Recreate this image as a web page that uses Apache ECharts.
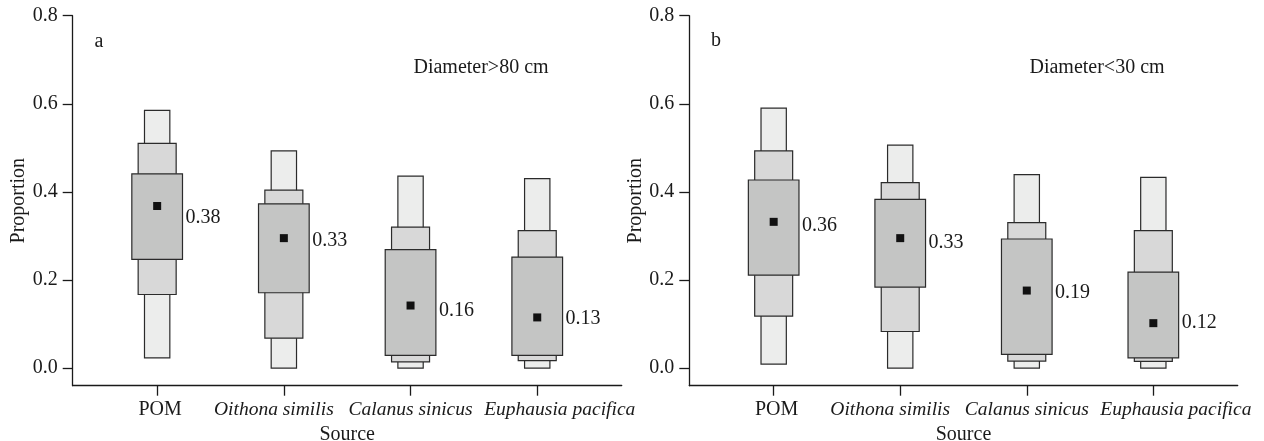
<!DOCTYPE html>
<html>
<head>
<meta charset="utf-8">
<script src="https://cdn.jsdelivr.net/npm/echarts@6/dist/echarts.min.js"></script>
<style>html,body{margin:0;padding:0;background:#fff;}#c{width:1264px;height:441px;}</style>
</head>
<body>
<div id="c"></div>
<script>
// ---- data ----
const categories = ['POM', 'Oithona similis', 'Calanus sinicus', 'Euphausia pacifica'];
const yTicks = [0, 0.2, 0.4, 0.6, 0.8];

// Panel a: Diameter>80 cm
const a_outerLow  = [0.023, 0.0, 0.0, 0.0];
const a_outerHigh = [0.585, 0.493, 0.436, 0.430];
const a_midLow    = [0.167, 0.068, 0.014, 0.017];
const a_midHigh   = [0.510, 0.404, 0.320, 0.312];
const a_innerLow  = [0.247, 0.171, 0.029, 0.029];
const a_innerHigh = [0.441, 0.373, 0.269, 0.252];
const a_median    = [0.368, 0.295, 0.142, 0.115];
const a_labels    = ['0.38', '0.33', '0.16', '0.13'];
const a_labelAt   = [0.341, 0.290, 0.131, 0.112];

// Panel b: Diameter<30 cm
const b_outerLow  = [0.009, 0.0, 0.0, 0.0];
const b_outerHigh = [0.590, 0.506, 0.439, 0.433];
const b_midLow    = [0.118, 0.083, 0.016, 0.015];
const b_midHigh   = [0.493, 0.421, 0.330, 0.312];
const b_innerLow  = [0.211, 0.184, 0.031, 0.023];
const b_innerHigh = [0.427, 0.383, 0.293, 0.218];
const b_median    = [0.332, 0.295, 0.176, 0.102];
const b_labels    = ['0.36', '0.33', '0.19', '0.12'];
const b_labelAt   = [0.324, 0.284, 0.172, 0.102];

// ---- chart ----
const FONT = '"Liberation Serif", "Times New Roman", serif';
const FS = 20;
const FSX = 19.5;

function buildData(ol, oh, ml, mh, il, ih, md, lab, la) {
  return categories.map((c, i) => [i + 1, ol[i], oh[i], ml[i], mh[i], il[i], ih[i], md[i], la[i]]);
}

function renderItem(params, api) {
  const x = api.value(0);
  const rect = (lo, hi, w, fill) => {
    const p1 = api.coord([x - w / 2, hi]);
    const p2 = api.coord([x + w / 2, lo]);
    return {
      type: 'rect',
      shape: { x: p1[0], y: p1[1], width: p2[0] - p1[0], height: p2[1] - p1[1] },
      style: { fill: fill, stroke: '#2b2b2b', lineWidth: 1.2 }
    };
  };
  const m = api.coord([x, api.value(7)]);
  const edge = api.coord([x + 0.2, api.value(8)]);
  const item = params.dataIndex;
  const text = params.seriesIndex === 0 ? a_labels[item] : b_labels[item];
  return {
    type: 'group',
    children: [
      rect(api.value(1), api.value(2), 0.2, '#ecedec'),
      rect(api.value(3), api.value(4), 0.3, '#d8d8d8'),
      rect(api.value(5), api.value(6), 0.4, '#c4c5c4'),
      { type: 'rect', shape: { x: m[0] - 4, y: m[1] - 4, width: 8, height: 8 }, style: { fill: '#111' } },
      { type: 'text', x: edge[0] + 3, y: edge[1],
        style: { text: text, fill: '#1a1a1a', font: FS + 'px ' + FONT, verticalAlign: 'middle', align: 'left' } }
    ]
  };
}

function xAxis(gi) {
  return {
    type: 'value', gridIndex: gi, min: 1 / 3, max: 14 / 3,
    name: 'Source', nameLocation: 'middle', nameGap: 38,
    nameTextStyle: { fontFamily: FONT, fontSize: FS, color: '#1a1a1a' },
    axisLine: { show: true, onZero: false, lineStyle: { color: '#1a1a1a', width: 1.3 } },
    axisTick: { show: true, length: 10, customValues: [1, 2, 3, 4], lineStyle: { color: '#1a1a1a', width: 1.3 } },
    axisLabel: {
      // trailing blank entry is the (hidden) max label, so no real label gets dropped
      customValues: [1, 2, 3, 4, 4.6], margin: 14, hideOverlap: false,
      showMinLabel: true, showMaxLabel: false,
      fontFamily: FONT, fontSize: FSX, color: '#1a1a1a',
      formatter: v => {
        const idx = Math.round(v) - 1;
        if (Math.abs(v - Math.round(v)) > 1e-6) return ' ';
        const name = categories[idx];
        if (name === 'POM') return '{n|' + name + '}';
        if (idx === 1) return '{o|' + name + '}';
        if (idx === 3) return '{e|' + name + '}';
        return '{i|' + name + '}';
      },
      rich: {
        i: { fontStyle: 'italic', fontFamily: FONT, fontSize: FSX, color: '#1a1a1a' },
        o: { fontStyle: 'italic', fontFamily: FONT, fontSize: FSX, color: '#1a1a1a', padding: [0, 20, 0, 0] },
        e: { fontStyle: 'italic', fontFamily: FONT, fontSize: FSX, color: '#1a1a1a', padding: [0, 0, 0, 45] },
        n: { fontFamily: FONT, fontSize: FS, color: '#1a1a1a', padding: [0, 0, 0, 6] }
      }
    },
    splitLine: { show: false }
  };
}

function yAxis(gi) {
  return {
    type: 'value', gridIndex: gi, min: -0.04, max: 0.8,
    name: 'Proportion', nameLocation: 'middle', nameGap: 44, nameRotate: 90,
    nameTextStyle: { fontFamily: FONT, fontSize: FS, color: '#1a1a1a' },
    axisLine: { show: true, onZero: false, lineStyle: { color: '#1a1a1a', width: 1.3 } },
    axisTick: { show: true, length: 10, customValues: yTicks, lineStyle: { color: '#1a1a1a', width: 1.3 } },
    axisLabel: {
      customValues: yTicks, margin: 15, hideOverlap: false,
      showMinLabel: true, showMaxLabel: true,
      fontFamily: FONT, fontSize: FS, color: '#1a1a1a',
      formatter: v => v.toFixed(1)
    },
    splitLine: { show: false }
  };
}

const chart = echarts.init(document.getElementById('c'), null, { renderer: 'canvas' });
chart.setOption({
  animation: false,
  backgroundColor: '#fff',
  grid: [
    { left: 72.7, right: 642.3, top: 15.7, bottom: 55.3, containLabel: false, outerBoundsMode: 'none' },
    { left: 689.3, right: 26.3, top: 15.7, bottom: 55.3, containLabel: false, outerBoundsMode: 'none' }
  ],
  xAxis: [xAxis(0), xAxis(1)],
  yAxis: [yAxis(0), yAxis(1)],
  series: [
    { type: 'custom', xAxisIndex: 0, yAxisIndex: 0, renderItem: renderItem, clip: false,
      encode: { x: 0, y: [1, 2] },
      data: buildData(a_outerLow, a_outerHigh, a_midLow, a_midHigh, a_innerLow, a_innerHigh, a_median, a_labels, a_labelAt) },
    { type: 'custom', xAxisIndex: 1, yAxisIndex: 1, renderItem: renderItem, clip: false,
      encode: { x: 0, y: [1, 2] },
      data: buildData(b_outerLow, b_outerHigh, b_midLow, b_midHigh, b_innerLow, b_innerHigh, b_median, b_labels, b_labelAt) }
  ],
  graphic: [
    { type: 'text', x: 99, y: 42, style: { text: 'a', font: FS + 'px ' + FONT, fill: '#1a1a1a', align: 'center', verticalAlign: 'middle' } },
    { type: 'text', x: 481, y: 68, style: { text: 'Diameter>80 cm', font: FS + 'px ' + FONT, fill: '#1a1a1a', align: 'center', verticalAlign: 'middle' } },
    { type: 'text', x: 716, y: 41, style: { text: 'b', font: FS + 'px ' + FONT, fill: '#1a1a1a', align: 'center', verticalAlign: 'middle' } },
    { type: 'text', x: 1097, y: 68, style: { text: 'Diameter<30 cm', font: FS + 'px ' + FONT, fill: '#1a1a1a', align: 'center', verticalAlign: 'middle' } }
  ]
});
</script>
</body>
</html>
